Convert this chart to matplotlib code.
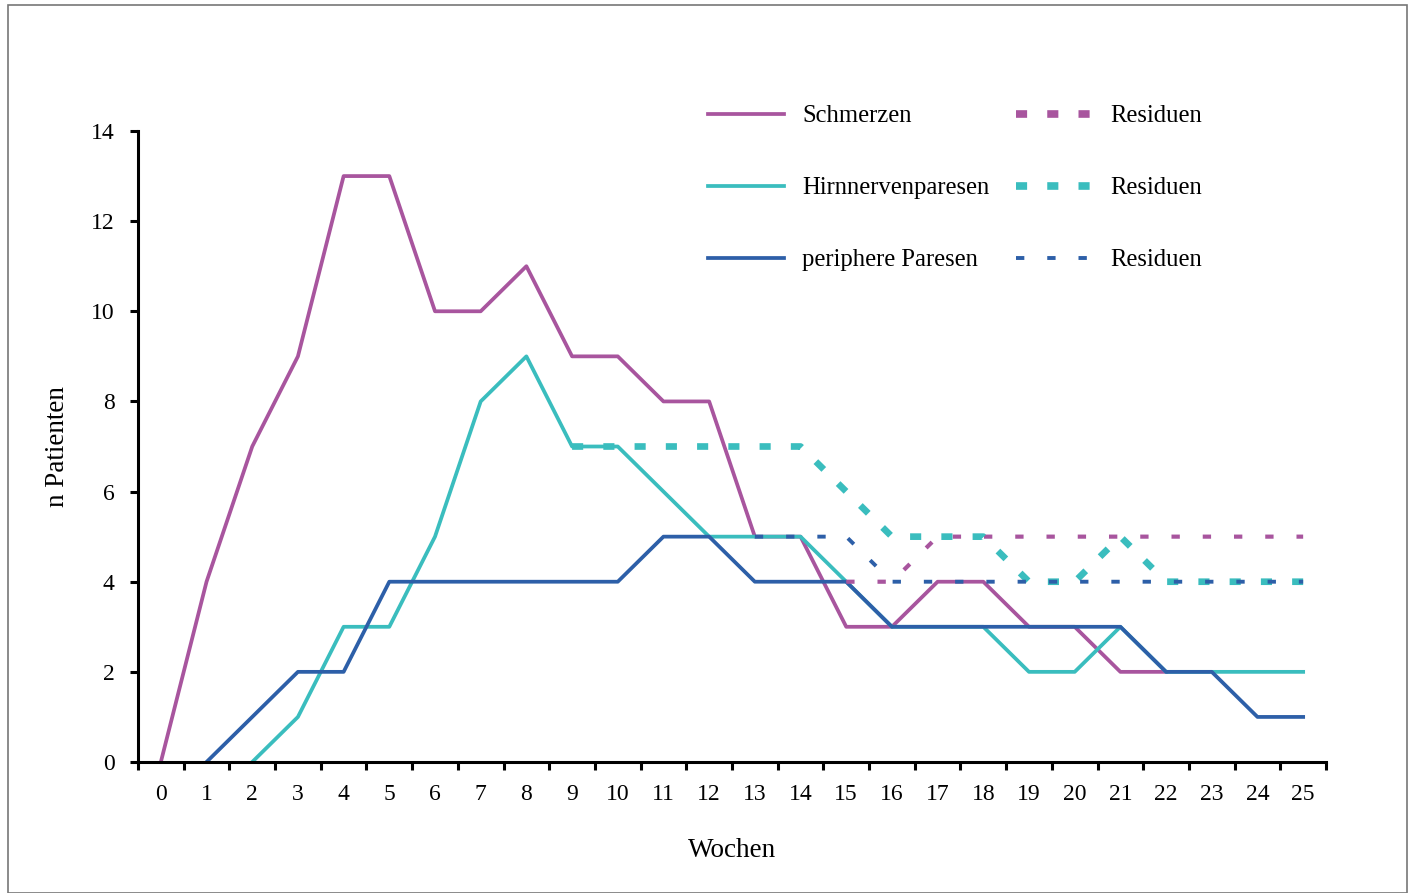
"""Verlauf der Symptome (Schmerzen, Hirnnervenparesen, periphere Paresen) über Wochen."""

import matplotlib

matplotlib.use("Agg")
import matplotlib.pyplot as plt  # noqa: E402
from matplotlib.lines import Line2D  # noqa: E402
from matplotlib.patches import Rectangle  # noqa: E402
from matplotlib.ticker import FixedLocator  # noqa: E402

plt.rcParams["font.family"] = ["Liberation Serif", "DejaVu Serif"]
plt.rcParams["lines.scale_dashes"] = False

# --- data -----------------------------------------------------------------
weeks_schmerzen = list(range(0, 23))
schmerzen = [0, 4, 7, 9, 13, 13, 10, 10, 11, 9, 9, 8, 8, 5, 5, 3, 3, 4, 4, 3, 3, 2, 2]

weeks_hirn = list(range(2, 26))
hirnnerven = [0, 1, 3, 3, 5, 8, 9, 7, 7, 6, 5, 5, 5, 4, 3, 3, 3, 2, 2, 3, 2, 2, 2, 2]

weeks_peri = list(range(1, 26))
periphere = [0, 1, 2, 2, 4, 4, 4, 4, 4, 4, 5, 5, 4, 4, 4, 3, 3, 3, 3, 3, 3, 2, 2, 1, 1]

weeks_res_schmerzen = list(range(15, 26))
res_schmerzen = [4, 4, 5, 5, 5, 5, 5, 5, 5, 5, 5]

weeks_res_hirn = list(range(9, 26))
res_hirn = [7, 7, 7, 7, 7, 7, 6, 5, 5, 5, 4, 4, 5, 4, 4, 4, 4]

weeks_res_peri = list(range(13, 26))
res_peri = [5, 5, 5, 4, 4, 4, 4, 4, 4, 4, 4, 4, 4]

x_labels = [str(w) for w in range(26)]
y_ticks = list(range(0, 15, 2))

# --- styles ---------------------------------------------------------------
PURPLE = "#A8559E"
CYAN = "#3ABDBE"
BLUE = "#2D5FA8"
LW = 2.7

fig = plt.figure(figsize=(14.11, 8.93), dpi=100)
ax = fig.add_axes([138 / 1411, 1 - 762 / 893, (1326 - 138) / 1411, (762 - 131) / 893])

ax.plot(weeks_schmerzen, schmerzen, color=PURPLE, lw=LW)
ax.plot(weeks_hirn, hirnnerven, color=CYAN, lw=LW)
ax.plot(weeks_peri, periphere, color=BLUE, lw=LW)

res_purple = dict(color=PURPLE, lw=3.0, dashes=(6, 16.5))
res_cyan = dict(color=CYAN, lw=4.8, dashes=(8, 14.5))
res_blue = dict(color=BLUE, lw=2.8, dashes=(6, 16.5))
ax.plot(weeks_res_schmerzen, res_schmerzen, **res_purple)
ax.plot(weeks_res_hirn, res_hirn, **res_cyan)
ax.plot(weeks_res_peri, res_peri, **res_blue)

ax.set_xlim(-0.5, 25.5)
ax.set_ylim(0, 14)
ax.set_xticks(range(26))
ax.set_xticklabels(x_labels)
ax.xaxis.set_minor_locator(FixedLocator([w + 0.5 for w in range(-1, 26)]))
ax.set_yticks(y_ticks)

for side in ("top", "right"):
    ax.spines[side].set_visible(False)
for side in ("left", "bottom"):
    ax.spines[side].set_linewidth(2.2)
    ax.spines[side].set_color("black")

ax.tick_params(axis="x", which="major", length=0, pad=16, labelsize=17)
ax.tick_params(axis="x", which="minor", length=6, width=2.2, direction="out")
ax.tick_params(axis="y", which="major", length=6, width=2.2, pad=11, labelsize=17)

ax.set_xlabel("Wochen", fontsize=19.5)
ax.xaxis.set_label_coords((732 - 138) / (1326 - 138), -(838 - 762) / (762 - 131))
ax.set_ylabel("n Patienten", fontsize=19.5)
ax.yaxis.set_label_coords(-(138 - 70) / (1326 - 138), (762 - 447) / (762 - 131))

handles = [
    Line2D([], [], color=PURPLE, lw=LW),
    Line2D([], [], color=CYAN, lw=LW),
    Line2D([], [], color=BLUE, lw=LW),
    Line2D([], [], color=PURPLE, lw=5.5, dashes=(8, 14.5)),
    Line2D([], [], color=CYAN, lw=5.5, dashes=(8, 14.5)),
    Line2D([], [], color=BLUE, lw=2.8, dashes=(6, 16.5)),
]
labels = ["Schmerzen", "Hirnnervenparesen", "periphere Paresen",
          "Residuen", "Residuen", "Residuen"]
fig.legend(handles, labels, ncol=2, frameon=False, fontsize=17.7,
           loc="upper left", bbox_to_anchor=(708 / 1411, 1 - 105 / 893),
           handlelength=3.1, handletextpad=0.72, columnspacing=1.1,
           labelspacing=2.03, borderpad=0, borderaxespad=0)

# thin grey frame around the whole figure
fig.add_artist(Rectangle((8 / 1411, 0), (1407 - 8) / 1411, 1 - 5 / 893,
                         transform=fig.transFigure, fill=False,
                         edgecolor="#777777", lw=1.2))

fig.savefig("out.png", dpi=100)
plt.close(fig)
